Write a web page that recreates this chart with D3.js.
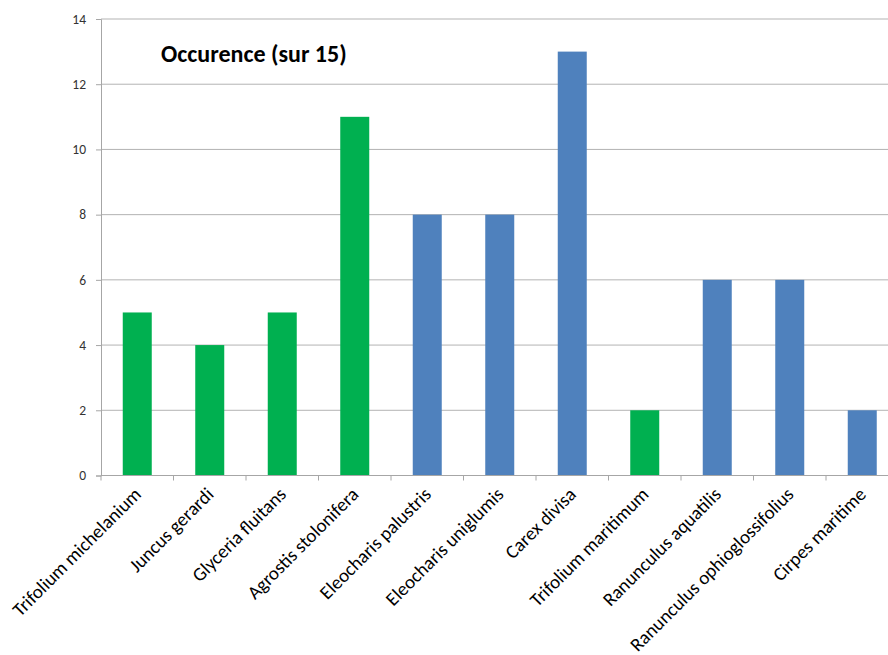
<!DOCTYPE html>
<html><head><meta charset="utf-8">
<script src="https://cdn.jsdelivr.net/npm/d3@7/dist/d3.min.js"></script>
<style>body{margin:0;background:#fff;overflow:hidden}</style>
</head><body>
<svg id="c" width="888" height="655"></svg>
<script>
const categories = ["Trifolium michelanium","Juncus gerardi","Glyceria fluitans","Agrostis stolonifera","Eleocharis palustris","Eleocharis uniglumis","Carex divisa","Trifolium maritimum","Ranunculus aquatilis","Ranunculus ophioglossifolius","Cirpes maritime"];
const values = [5,4,5,11,8,8,13,2,6,6,2];
const groups = ["g","g","g","g","b","b","b","g","b","b","b"];
const yTicks = [0,2,4,6,8,10,12,14];
const title = "Occurence (sur 15)";
const colors = {g:"#00b050", b:"#4f81bd"};

const svg = d3.select("#c");
const L = 101, R = 898.5, T = 19, B = 475.5;
const x = d3.scaleBand().domain(categories).range([L, R]).paddingInner(0.6).paddingOuter(0.3);
const y = d3.scaleLinear().domain([0,14]).range([B, T]);
const font = "Calibri, Carlito, 'Open Sans', sans-serif";

// gridlines
svg.append("g").selectAll("line").data(yTicks.filter(d=>d>0)).join("line")
  .attr("x1", L).attr("x2", R).attr("y1", d=>y(d)).attr("y2", d=>y(d))
  .attr("stroke", "#b3b3b3").attr("stroke-width", 1);

// bars
svg.append("g").selectAll("rect").data(categories).join("rect")
  .attr("x", d=>x(d)).attr("width", x.bandwidth())
  .attr("y", (d,i)=>y(values[i])).attr("height", (d,i)=>B - y(values[i]))
  .attr("fill", (d,i)=>colors[groups[i]]);

// y axis
const ya = svg.append("g").attr("transform", `translate(${L},0)`)
  .call(d3.axisLeft(y).tickValues(yTicks).tickSize(5).tickPadding(10).tickFormat(d3.format("d")));
ya.select(".domain").attr("stroke", "#a6a6a6");
ya.selectAll(".tick line").attr("stroke", "#a6a6a6");
ya.selectAll("text").attr("font-family", font).attr("font-size", 13.5).attr("fill", "#333");

// x axis
const xa = svg.append("g").attr("transform", `translate(0,${B})`);
xa.append("line").attr("x1", L).attr("x2", R).attr("stroke", "#a6a6a6");
const bounds = categories.map((d,i)=> L + i*(R-L)/categories.length);
xa.selectAll("line.tk").data(bounds).join("line").attr("class","tk")
  .attr("x1", d=>d).attr("x2", d=>d).attr("y1", 0).attr("y2", 5).attr("stroke", "#a6a6a6");
xa.selectAll("text").data(categories).join("text")
  .attr("transform", d=>`translate(${x(d)+x.bandwidth()/2+5},${20}) rotate(-45)`)
  .attr("text-anchor", "end")
  .attr("font-family", font).attr("font-size", 19).attr("fill", "#000")
  .text(d=>d);

// title
svg.append("text").attr("x", 161).attr("y", 62)
  .attr("font-family", font).attr("font-weight", "bold").attr("font-size", 24).attr("fill", "#000")
  .text(title);
</script>
</body></html>
